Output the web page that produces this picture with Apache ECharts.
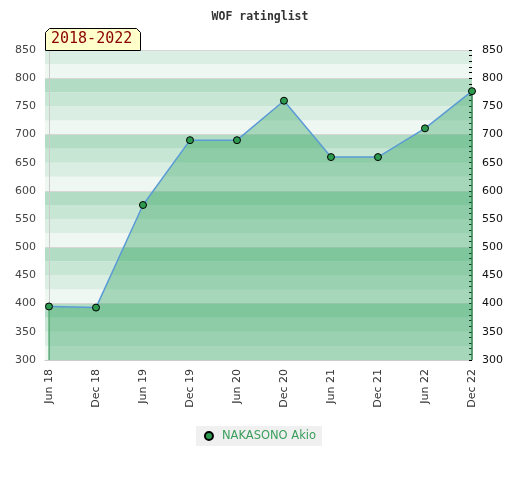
<!DOCTYPE html>
<html>
<head>
<meta charset="utf-8">
<script src="https://cdn.jsdelivr.net/npm/echarts@6/dist/echarts.min.js"></script>
<style>html,body{margin:0;padding:0;background:#fff}#c{width:520px;height:480px}</style>
</head>
<body>
<div id="c"></div>
<script>
const titleText = 'WOF ratinglist';
const periodLabel = '2018-2022';
const seriesName = 'NAKASONO Akio';
const categories = ['Jun 18','Dec 18','Jun 19','Dec 19','Jun 20','Dec 20','Jun 21','Dec 21','Jun 22','Dec 22'];
const ratings = [395, 393, 575, 690, 690, 760, 660, 660, 711, 777];
const yMin = 300, yMax = 850;

const chart = echarts.init(document.getElementById('c'), null, {renderer:'canvas'});
const pts = ratings.map((v,i)=>[i,v]);
const last = ratings.length-1;
const bandColors = ['#eff7f2','#dbeee3','#c8e6d4','#b2dcc4'];

chart.setOption({
  animation:false,
  backgroundColor:'#fff',
  title:{text:titleText,left:'center',top:6,textStyle:{fontFamily:'DejaVu Sans Mono',fontSize:11.5,fontWeight:'bold',color:'#333'}},
  legend:{show:true,data:[seriesName],bottom:34,left:'center',backgroundColor:'#f0f0f0',padding:[4,6,4,8],itemWidth:8,itemHeight:8,itemGap:6,icon:'circle',
    textStyle:{color:'#3a9e5c',fontFamily:'DejaVu Sans',fontSize:11.5,padding:[0,0,0,4]}},
  grid:{left:45,right:48,top:50,bottom:120,containLabel:false},
  xAxis:{type:'value',min:-0.085,max:last,
    axisLine:{show:true,lineStyle:{color:'#ccc'}},axisTick:{show:false},splitLine:{show:false},
    axisLabel:{customValues:categories.map((_,i)=>i),rotate:90,color:'#333',fontFamily:'DejaVu Sans',fontSize:11,margin:9,
      formatter:v=>categories[Math.round(v)]}},
  yAxis:[
    {type:'value',min:yMin,max:yMax,interval:50,position:'left',
      axisLine:{show:true,lineStyle:{color:'#ccc'}},axisTick:{show:false},splitLine:{show:false},
      axisLabel:{color:'#444',fontFamily:'DejaVu Sans',fontSize:11,margin:9}},
    {type:'value',min:yMin,max:yMax,interval:50,position:'right',
      axisLine:{show:false},axisTick:{show:true,inside:true,length:3,lineStyle:{color:'#000'}},
      minorTick:{show:true,splitNumber:5,length:3,lineStyle:{color:'#000'}},
      splitLine:{show:false},
      axisLabel:{color:'#111',fontFamily:'DejaVu Sans',fontSize:11,margin:10}},
    {type:'value',min:yMin,max:yMax,interval:25,show:true,position:'left',
      axisLine:{show:false},axisTick:{show:false},axisLabel:{show:false},splitLine:{show:false},
      splitArea:{show:true,areaStyle:{color:bandColors}}},
    {type:'value',min:yMin,max:yMax,interval:100,show:true,position:'left',
      axisLine:{show:false},axisTick:{show:false},axisLabel:{show:false},
      splitLine:{show:true,lineStyle:{color:'#d6d6d6',width:1}}}
  ],
  series:[
    {name:seriesName,type:'line',data:pts,yAxisIndex:0,z:5,
      symbol:'circle',symbolSize:7,
      itemStyle:{color:'#2e9a50',borderColor:'#000',borderWidth:1},
      lineStyle:{color:'#5b9bd5',width:1.5},
      areaStyle:{color:'rgba(50,165,95,0.55)'}},
    {name:'edgeL',type:'line',data:[[0,ratings[0]],[0,yMin]],yAxisIndex:0,symbol:'none',silent:true,z:4,
      lineStyle:{color:'#3a9a5a',width:1}},
    {name:'edgeR',type:'line',data:[[last,ratings[last]],[last,yMin]],yAxisIndex:0,symbol:'none',silent:true,z:4,
      lineStyle:{color:'#2a7a45',width:1.5}}
  ],
  graphic:[
    {type:'polygon',left:45,top:28,z:10,shape:{points:[[0,4],[4,0],[91,0],[95,4],[95,22],[0,22]]},
      style:{fill:'#ffffcc',stroke:'#000',lineWidth:1}},
    {type:'text',left:51,top:32,z:11,style:{text:periodLabel,fill:'#8b0000',font:'15px "DejaVu Sans Mono"'}}
  ]
});
</script>
</body>
</html>
